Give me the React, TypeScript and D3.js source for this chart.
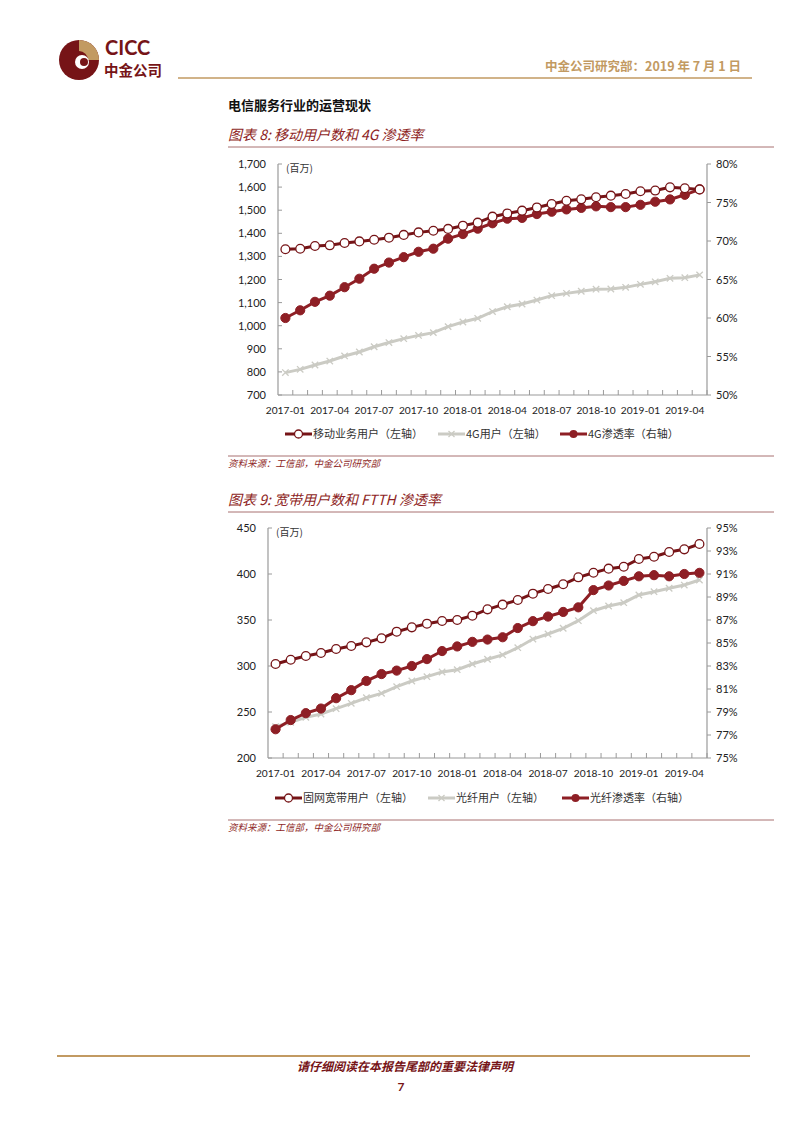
import React from "react";
import * as d3 from "d3";

const months: string[] = [
  "2017-01","2017-02","2017-03","2017-04","2017-05","2017-06","2017-07","2017-08","2017-09","2017-10","2017-11","2017-12",
  "2018-01","2018-02","2018-03","2018-04","2018-05","2018-06","2018-07","2018-08","2018-09","2018-10","2018-11","2018-12",
  "2019-01","2019-02","2019-03","2019-04","2019-05",
];

// Chart 8 (millions / %)
const mobileUsers = [1331,1333,1345,1348,1358,1365,1372,1381,1393,1404,1411,1419,1433,1446,1472,1486,1498,1512,1527,1541,1547,1556,1563,1570,1582,1585,1599,1595,1590];
const users4G = [797,811,830,847,869,886,909,927,944,958,970,996,1016,1032,1061,1082,1094,1111,1130,1140,1149,1158,1159,1166,1179,1190,1205,1208,1220];
const pen4G = [60.0,61.0,62.1,62.9,64.0,65.1,66.4,67.2,67.9,68.6,69.0,70.3,70.9,71.6,72.3,72.9,73.0,73.5,73.8,74.1,74.3,74.5,74.4,74.4,74.7,75.1,75.4,76.0,76.7];

// Chart 9
const broadbandUsers = [302.2,306.8,310.9,314.1,318.5,321.7,325.7,330.1,337.3,342.0,346.0,348.9,350.0,354.7,361.6,366.7,371.7,378.6,383.7,388.8,396.4,401.4,405.8,407.9,416.3,418.8,423.9,426.8,432.6];
const fiberUsers = [234.0,238.8,244.2,247.8,253.6,259.4,265.5,270.3,277.5,283.7,288.4,293.5,296.0,302.2,307.3,312.0,319.9,329.3,334.8,341.0,349.3,360.1,365.2,368.8,377.2,380.8,384.5,388.0,393.5];
const fiberPen = [77.5,78.3,78.9,79.3,80.2,80.9,81.7,82.3,82.6,83.0,83.6,84.3,84.7,85.1,85.3,85.5,86.3,86.9,87.3,87.7,88.1,89.6,90.0,90.4,90.8,90.9,90.8,91.0,91.1];

const leftTicks1 = [700,800,900,1000,1100,1200,1300,1400,1500,1600,1700];
const rightTicks1 = [50,55,60,65,70,75,80];
const leftTicks2 = [200,250,300,350,400,450];
const rightTicks2 = [75,77,79,81,83,85,87,89,91,93,95];

const legend1 = ["移动业务用户（左轴）", "4G用户（左轴）", "4G渗透率（右轴）"];
const legend2 = ["固网宽带用户（左轴）", "光纤用户（左轴）", "光纤渗透率（右轴）"];

const DARK = "#761417";
const RED = "#8e1f25";
const GRAY = "#cbcbc4";
const AXIS = "#9a9a9a";
const GOLD = "#c29a62";
const LATIN = "Lato, 'Open Sans', 'Noto Sans', sans-serif";
const CJK = "'Noto Sans CJK SC', sans-serif";

type ChartProps = {
  x0: number; x1: number; yTop: number; yBot: number;
  leftDomain: [number, number]; rightDomain: [number, number];
  leftTicks: number[]; rightTicks: number[];
  leftFmt: (v: number) => string;
  s1: number[]; s2: number[]; s3: number[];
  legend: string[]; legendY: number; legendX: number[];
};

function Chart(p: ChartProps) {
  const x = d3.scaleBand<string>().domain(months).range([p.x0, p.x1]);
  const cx = (i: number) => (x(months[i]) as number) + x.bandwidth() / 2;
  const yl = d3.scaleLinear().domain(p.leftDomain).range([p.yBot, p.yTop]);
  const yr = d3.scaleLinear().domain(p.rightDomain).range([p.yBot, p.yTop]);
  const lineL = d3.line<number>().x((_, i) => cx(i)).y((d) => yl(d));
  const lineR = d3.line<number>().x((_, i) => cx(i)).y((d) => yr(d));
  const xm = 3.2;
  return (
    <g>
      <line x1={p.x0} x2={p.x0} y1={p.yTop} y2={p.yBot} stroke={AXIS} strokeWidth={1.2} />
      <line x1={p.x1} x2={p.x1} y1={p.yTop} y2={p.yBot} stroke={AXIS} strokeWidth={1.2} />
      <line x1={p.x0} x2={p.x1} y1={p.yBot} y2={p.yBot} stroke={AXIS} strokeWidth={1.2} />
      {p.leftTicks.map((t) => (
        <g key={"l" + t}>
          <line x1={p.x0} x2={p.x0 + 4} y1={yl(t)} y2={yl(t)} stroke={AXIS} />
          <text x={p.x0 - 12} y={yl(t) + 4} textAnchor="end" fontSize={11} fontFamily={LATIN} fill="#222">{p.leftFmt(t)}</text>
        </g>
      ))}
      {p.rightTicks.map((t) => (
        <g key={"r" + t}>
          <line x1={p.x1} x2={p.x1 + 4} y1={yr(t)} y2={yr(t)} stroke={AXIS} />
          <text x={p.x1 + 9} y={yr(t) + 4} textAnchor="start" fontSize={11} fontFamily={LATIN} fill="#222">{t + "%"}</text>
        </g>
      ))}
      {months.map((m) => (
        <line key={"xt" + m} x1={(x(m) as number) + x.bandwidth()} x2={(x(m) as number) + x.bandwidth()} y1={p.yBot} y2={p.yBot - 5} stroke={AXIS} />
      ))}
      {months.map((m, i) => i % 3 === 0 ? (
        <text key={"xl" + m} x={cx(i)} y={p.yBot + 19} textAnchor="middle" fontSize={10.2} fontFamily={LATIN} fill="#222">{m}</text>
      ) : null)}
      <text x={p.x0 + 8} y={p.yTop + 8} fontSize={10} fontFamily={CJK} fill="#333">(百万)</text>
      <path d={lineL(p.s2) || ""} fill="none" stroke={GRAY} strokeWidth={3} />
      {p.s2.map((d, i) => (
        <path key={"g" + i} d={`M${cx(i) - xm},${yl(d) - xm}L${cx(i) + xm},${yl(d) + xm}M${cx(i) - xm},${yl(d) + xm}L${cx(i) + xm},${yl(d) - xm}`} stroke={GRAY} strokeWidth={1.3} />
      ))}
      <path d={lineR(p.s3) || ""} fill="none" stroke={RED} strokeWidth={3} />
      {p.s3.map((d, i) => (
        <circle key={"p" + i} cx={cx(i)} cy={yr(d)} r={4.6} fill={RED} stroke={RED} />
      ))}
      <path d={lineL(p.s1) || ""} fill="none" stroke={DARK} strokeWidth={3} />
      {p.s1.map((d, i) => (
        <circle key={"u" + i} cx={cx(i)} cy={yl(d)} r={4.4} fill="#fff" stroke={DARK} strokeWidth={1.3} />
      ))}
      {[0, 1, 2].map((k) => {
        const lx = p.legendX[k];
        const ly = p.legendY;
        const mid = lx + 13.5;
        return (
          <g key={"lg" + k}>
            <line x1={lx} x2={lx + 27} y1={ly} y2={ly} stroke={k === 0 ? DARK : k === 1 ? GRAY : RED} strokeWidth={3} />
            {k === 0 && <circle cx={mid} cy={ly} r={4} fill="#fff" stroke={DARK} strokeWidth={1.3} />}
            {k === 1 && <path d={`M${mid - 3},${ly - 3}L${mid + 3},${ly + 3}M${mid - 3},${ly + 3}L${mid + 3},${ly - 3}`} stroke={GRAY} strokeWidth={1.3} />}
            {k === 2 && <circle cx={mid} cy={ly} r={4} fill={RED} />}
            <text x={lx + 28} y={ly + 4} fontSize={11} fontFamily={CJK} fill="#333">{p.legend[k]}</text>
          </g>
        );
      })}
    </g>
  );
}

export default function App() {
  const comma = d3.format(",");
  return (
    <svg width={802} height={1133} style={{ position: "absolute", left: 0, top: 0, background: "#fff" }}>
      <g>
        <circle cx={79} cy={60} r={20} fill={DARK} />
        <path d="M79,40 A20,20 0 0 1 99,60 L88,60 A9,9 0 0 0 79,51 Z" fill={GOLD} />
        <circle cx={82} cy={62} r={7} fill="#fff" />
        <circle cx={84} cy={62} r={4} fill={DARK} />
        <text x={105} y={55} fontSize={20} fontWeight="bold" fontFamily={LATIN} fill={DARK}>CICC</text>
        <text x={104} y={76} fontSize={14.5} fontWeight="bold" fontFamily={CJK} fill={DARK}>中金公司</text>
      </g>
      <line x1={178} x2={752} y1={78} y2={78} stroke={GOLD} strokeWidth={1.5} />
      <text x={741} y={71} textAnchor="end" fontSize={12.5} fontWeight="bold" fontFamily={CJK} fill={GOLD}>中金公司研究部：2019 年 7 月 1 日</text>

      <text x={228} y={110} fontSize={13} fontWeight="bold" fontFamily={CJK} fill="#111">电信服务行业的运营现状</text>

      <text x={228} y={140} fontSize={14} fontStyle="italic" fontFamily={CJK} fill={RED}>图表 8: 移动用户数和 4G 渗透率</text>
      <line x1={228} x2={774} y1={147} y2={147} stroke="#a87070" strokeWidth={1} />
      <Chart x0={278} x1={707} yTop={164} yBot={395}
        leftDomain={[700, 1700]} rightDomain={[50, 80]}
        leftTicks={leftTicks1} rightTicks={rightTicks1} leftFmt={(v) => comma(v)}
        s1={mobileUsers} s2={users4G} s3={pen4G}
        legend={legend1} legendY={434} legendX={[285, 438, 560]} />
      <line x1={228} x2={774} y1={456} y2={456} stroke="#a87070" strokeWidth={1} />
      <text x={228} y={467} fontSize={9.5} fontStyle="italic" fontFamily={CJK} fill={RED}>资料来源：工信部，中金公司研究部</text>

      <text x={228} y={505} fontSize={14} fontStyle="italic" fontFamily={CJK} fill={RED}>图表 9: 宽带用户数和 FTTH 渗透率</text>
      <line x1={228} x2={774} y1={512} y2={512} stroke="#a87070" strokeWidth={1} />
      <Chart x0={268} x1={707} yTop={528} yBot={758}
        leftDomain={[200, 450]} rightDomain={[75, 95]}
        leftTicks={leftTicks2} rightTicks={rightTicks2} leftFmt={(v) => String(v)}
        s1={broadbandUsers} s2={fiberUsers} s3={fiberPen}
        legend={legend2} legendY={798} legendX={[275, 428, 562]} />
      <line x1={228} x2={774} y1={820} y2={820} stroke="#a87070" strokeWidth={1} />
      <text x={228} y={831} fontSize={9.5} fontStyle="italic" fontFamily={CJK} fill={RED}>资料来源：工信部，中金公司研究部</text>

      <line x1={57} x2={750} y1={1056} y2={1056} stroke={GOLD} strokeWidth={2} />
      <text x={405} y={1071} textAnchor="middle" fontSize={12} fontWeight="bold" fontStyle="italic" fontFamily={CJK} fill={DARK}>请仔细阅读在本报告尾部的重要法律声明</text>
      <text x={401} y={1091} textAnchor="middle" fontSize={12} fontWeight="bold" fontFamily={LATIN} fill={DARK}>7</text>
    </svg>
  );
}
